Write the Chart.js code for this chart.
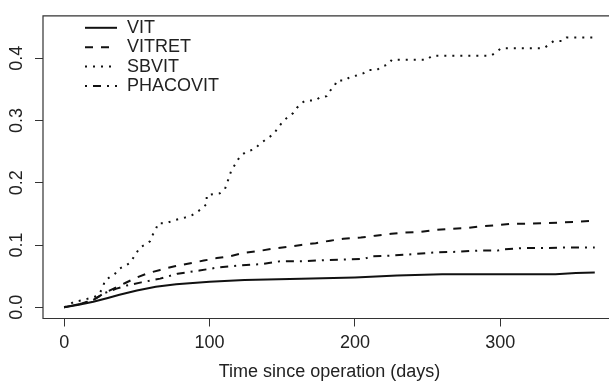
<!DOCTYPE html>
<html>
<head>
<meta charset="utf-8">
<script src="https://cdn.jsdelivr.net/npm/chart.js@4.4.1/dist/chart.umd.min.js"></script>
<style>
  html, body { margin: 0; padding: 0; background: #fff; overflow: hidden; }
  canvas { display: block; }
</style>
</head>
<body>
<!-- a little wider than the window: the plot box runs past the right edge, as in the original -->
<canvas id="cif" width="616" height="381"></canvas>
<script>
// Cumulative incidence by operation type
const seriesNames = ["VIT", "VITRET", "SBVIT", "PHACOVIT"];
const xTicks = [0, 100, 200, 300];
const yTicks = [0, 0.1, 0.2, 0.3, 0.4];

const vitDays = [0, 10, 20, 30, 38, 50, 63, 77, 100, 124, 163, 200, 229, 260, 338, 352, 365];
const vitRisk = [0, 0.004, 0.009, 0.015, 0.020, 0.027, 0.033, 0.037, 0.041, 0.044, 0.046, 0.048, 0.051, 0.053, 0.053, 0.055, 0.056];

const vitretDays = [0, 12, 20, 27, 34, 42, 50, 58, 66, 76, 85, 96, 105, 114, 123, 133, 143, 153, 163, 173,
  183, 192, 204, 214, 225, 234, 245, 255, 266, 276, 286, 298, 308, 318, 330, 340, 350, 365];
const vitretRisk = [0, 0.006, 0.012, 0.022, 0.030, 0.039, 0.048, 0.055, 0.060, 0.066, 0.070, 0.075, 0.079, 0.082, 0.087, 0.090, 0.094, 0.097, 0.100, 0.103,
  0.107, 0.110, 0.112, 0.115, 0.118, 0.120, 0.121, 0.124, 0.126, 0.127, 0.130, 0.132, 0.134, 0.134, 0.135, 0.136, 0.137, 0.139];

const sbvitDays = [0, 7, 13, 21, 24.5, 26.7, 28, 35, 38, 42, 45, 48.6, 52, 56, 59, 61, 63, 64.6, 70, 76,
  83, 88, 92, 95, 98, 98, 107, 110.6, 113, 115, 118.6, 121, 125.5, 131, 134, 139, 144, 147, 150, 154,
  157.6, 160, 163.4, 166, 172.6, 176, 180.6, 183, 186, 187.5, 193, 196.7, 201, 206, 209, 215, 219, 223, 225.4, 249.5,
  253, 293.6, 297, 300.5, 330, 333, 336.7, 342.5, 345.5, 365];
const sbvitRisk = [0, 0.009, 0.0115, 0.017, 0.023, 0.033, 0.043, 0.054, 0.062, 0.067, 0.071, 0.083, 0.096, 0.101, 0.106, 0.117, 0.125, 0.135, 0.135, 0.140,
  0.144, 0.148, 0.154, 0.159, 0.166, 0.180, 0.183, 0.190, 0.206, 0.220, 0.233, 0.243, 0.250, 0.254, 0.261, 0.270, 0.278, 0.288, 0.297, 0.306,
  0.312, 0.320, 0.328, 0.332, 0.332, 0.337, 0.339, 0.348, 0.355, 0.364, 0.364, 0.370, 0.372, 0.376, 0.381, 0.381, 0.387, 0.390, 0.3975, 0.3975,
  0.404, 0.404, 0.409, 0.416, 0.416, 0.421, 0.4275, 0.4275, 0.433, 0.433];

const phacoDays = [0, 12, 20, 28, 36, 43, 53, 66, 78, 93, 106, 120, 136, 149, 166, 181, 196, 207, 211, 225,
  239, 254, 269, 285, 298, 302, 315, 331, 346, 365];
const phacoRisk = [0, 0.006, 0.012, 0.023, 0.030, 0.035, 0.040, 0.046, 0.054, 0.059, 0.064, 0.067, 0.0695, 0.074, 0.074, 0.076, 0.077, 0.078, 0.082, 0.083,
  0.085, 0.088, 0.089, 0.091, 0.091, 0.093, 0.095, 0.095, 0.096, 0.096];

const FONT = "'Liberation Sans', Arial, Helvetica, sans-serif";
const INK = "#111";

function pts(days, risk) {
  return days.map((d, i) => ({ x: d, y: risk[i] }));
}

function line(label, data, dash) {
  return {
    label, data, borderDash: dash,
    borderColor: INK, borderWidth: 2, borderCapStyle: "butt",
    pointRadius: 0, fill: false, tension: 0
  };
}

// R-style box (its right side falls off the picture) plus the legend top-left
const boxAndLegend = {
  id: "boxAndLegend",
  afterDraw(chart) {
    const { ctx, chartArea: a } = chart;
    ctx.save();
    ctx.strokeStyle = "#333";
    ctx.lineWidth = 1.2;
    ctx.beginPath();
    ctx.moveTo(chart.width + 5, a.top);
    ctx.lineTo(a.left, a.top);
    ctx.lineTo(a.left, a.bottom);
    ctx.lineTo(chart.width + 5, a.bottom);
    ctx.stroke();

    ctx.font = "18px " + FONT;
    ctx.textBaseline = "middle";
    ctx.fillStyle = "#222";
    chart.data.datasets.forEach((ds, i) => {
      const y = a.top + 12 + i * 19.4;
      ctx.beginPath();
      ctx.setLineDash(ds.borderDash);
      ctx.lineWidth = 2;
      ctx.lineCap = "butt";
      ctx.strokeStyle = INK;
      ctx.moveTo(a.left + 42, y);
      ctx.lineTo(a.left + 74, y);
      ctx.stroke();
      ctx.setLineDash([]);
      ctx.fillText(ds.label, a.left + 84, y);
    });
    ctx.restore();
  }
};

new Chart(document.getElementById("cif"), {
  type: "line",
  data: {
    datasets: [
      line(seriesNames[0], pts(vitDays, vitRisk), []),
      line(seriesNames[1], pts(vitretDays, vitretRisk), [8, 8]),
      line(seriesNames[2], pts(sbvitDays, sbvitRisk), [2, 6]),
      line(seriesNames[3], pts(phacoDays, phacoRisk), [2, 6, 8, 6])
    ]
  },
  options: {
    responsive: false,
    animation: false,
    events: [],
    layout: { padding: { top: 10.5, left: 0, right: 0, bottom: 0 } },
    plugins: { legend: { display: false }, tooltip: { enabled: false } },
    scales: {
      x: {
        type: "linear",
        min: -14.6,
        max: 379.6,
        afterBuildTicks: ax => { ax.ticks = xTicks.map(v => ({ value: v })); },
        afterFit: ax => { ax.height = 62.5; },
        grid: { drawOnChartArea: false, drawTicks: true, tickLength: 8, tickColor: "#333", tickWidth: 1 },
        border: { display: false },
        ticks: { color: "#222", padding: 6, maxRotation: 0, font: { family: FONT, size: 18 }, callback: v => String(v) },
        title: { display: true, text: "Time since operation (days)", color: "#222", padding: { top: 0, bottom: -2 }, font: { family: FONT, size: 18 } }
      },
      y: {
        type: "linear",
        min: -0.018,
        max: 0.468,
        afterBuildTicks: ax => { ax.ticks = yTicks.map(v => ({ value: v })); },
        afterFit: ax => { ax.width = 43; },
        grid: { drawOnChartArea: false, drawTicks: true, tickLength: 8, tickColor: "#333", tickWidth: 1 },
        border: { display: false },
        ticks: {
          color: "#222", padding: 5, minRotation: 90, maxRotation: 90, crossAlign: "center",
          font: { family: FONT, size: 18 }, callback: v => v.toFixed(1)
        }
      }
    }
  },
  plugins: [boxAndLegend]
});
</script>
</body>
</html>
